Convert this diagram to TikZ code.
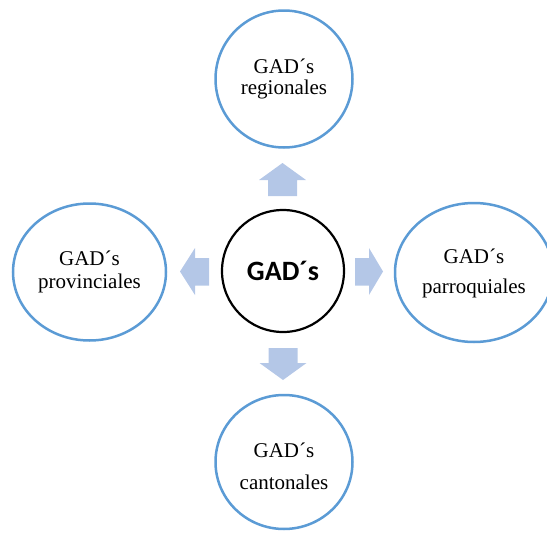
\documentclass[tikz,border=0pt]{standalone}
\usepackage{fontspec}
\setmainfont{Liberation Serif}
\newfontfamily\carlito{Carlito}
\usetikzlibrary{shapes.geometric}
\definecolor{ringblue}{HTML}{5B9BD5}
\definecolor{arrowblue}{HTML}{B4C7E7}
\tikzset{
  ring/.style={ellipse, draw=ringblue, line width=2.5pt, fill=white, inner sep=0pt, align=center},
  hub/.style={circle, draw=black, line width=2.2pt, fill=white, inner sep=0pt, minimum size=122pt},
  blockarrow/.style={fill=arrowblue},
  lbl/.style={align=center, inner sep=0pt}
}
\begin{document}
\begin{tikzpicture}[x=1pt,y=-1pt]
\useasboundingbox (0,0) rectangle (547,536);
\clip (0,0) rectangle (547,536);
% hub
\node[hub] (hub) at (283,271) {\carlito\bfseries\fontsize{28}{30}\selectfont GAD´s};
% rings
\node[ring, minimum width=137pt, minimum height=137pt] (reg) at (284,79) {};
\node[lbl, font=\fontsize{21}{21}\selectfont] (regt) at (reg.center) {GAD´s\\regionales};
\node[ring, minimum width=153pt, minimum height=137pt] (prov) at (89.5,272) {};
\node[lbl, font=\fontsize{21}{23}\selectfont] (provt) at (prov.center) {GAD´s\\provinciales};
\node[ring, minimum width=158pt, minimum height=139pt] (parr) at (474,272.5) {};
\node[lbl, font=\fontsize{21}{30}\selectfont] (parrt) at ([yshift=-1pt]parr.center) {GAD´s\\parroquiales};
\node[ring, minimum width=137pt, minimum height=134pt] (cant) at (284,462) {};
\node[lbl, font=\fontsize{21}{32}\selectfont] (cantt) at ([yshift=-4pt]cant.center) {GAD´s\\cantonales};
% block arrows
\fill[blockarrow] (282.5,163) -- (306,180) -- (297,180) -- (297,196) -- (268,196) -- (268,180) -- (259,180) -- cycle;
\fill[blockarrow] (283,380) -- (306.5,363) -- (297.5,363) -- (297.5,348) -- (268.5,348) -- (268.5,363) -- (259.5,363) -- cycle;
\fill[blockarrow] (180,271.5) -- (195,248) -- (195,258) -- (209,258) -- (209,285.5) -- (195,285.5) -- (195,295) -- cycle;
\fill[blockarrow] (383,271.5) -- (369,248) -- (369,258) -- (355,258) -- (355,285.5) -- (369,285.5) -- (369,295) -- cycle;
\end{tikzpicture}
\end{document}
